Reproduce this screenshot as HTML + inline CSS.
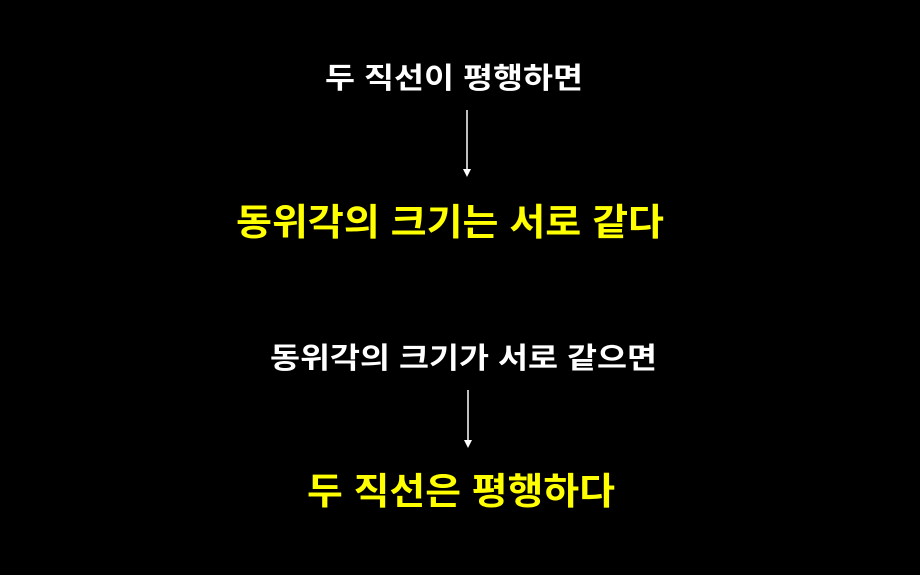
<!DOCTYPE html>
<html><head><meta charset="utf-8">
<style>html,body{margin:0;padding:0;background:#000;}svg{display:block}</style>
</head><body>
<svg width="920" height="575" viewBox="0 0 920 575" xmlns="http://www.w3.org/2000/svg">
<rect width="920" height="575" fill="#000"/>
<g font-family="'Liberation Sans','Noto Sans CJK KR',sans-serif" font-weight="bold">
<text x="325" y="88" font-size="29" fill="#fff" textLength="258" lengthAdjust="spacingAndGlyphs">두 직선이 평행하면</text>
<text x="236" y="235" font-size="37" fill="#ffff00" textLength="428" lengthAdjust="spacingAndGlyphs">동위각의 크기는 서로 같다</text>
<text x="270" y="368" font-size="29" fill="#fff" textLength="387" lengthAdjust="spacingAndGlyphs">동위각의 크기가 서로 같으면</text>
<text x="307" y="504" font-size="37" fill="#ffff00" textLength="308" lengthAdjust="spacingAndGlyphs">두 직선은 평행하다</text>
</g>
<line x1="467" y1="110" x2="467" y2="170" stroke="#fff" stroke-width="1.5"/>
<polygon points="463,169 471,169 467,177" fill="#fff"/>
<line x1="468" y1="390" x2="468" y2="441" stroke="#fff" stroke-width="1.5"/>
<polygon points="464,440 472,440 468,448" fill="#fff"/>
</svg>
</body></html>
